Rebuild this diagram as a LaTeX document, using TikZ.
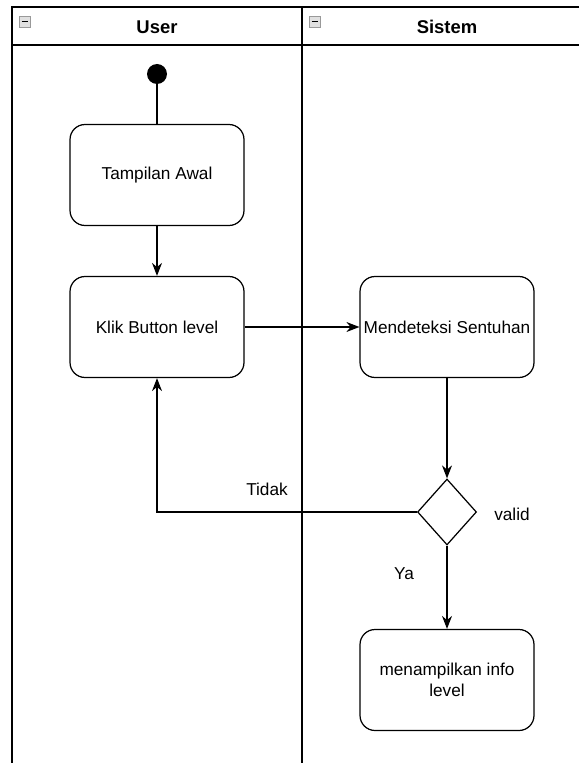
\documentclass[tikz,border=0pt]{standalone}
\usepackage{fontspec}
\setmainfont{Liberation Sans}
\usetikzlibrary{shapes.geometric,arrows.meta}
\tikzstyle{act}=[rectangle, rounded corners=0.3cm, draw=black, line width=0.7pt, minimum width=3.48cm, minimum height=2.02cm, align=center, inner sep=1pt, font=\fontsize{9.8}{12}\selectfont]
\tikzstyle{dec}=[diamond, draw=black, line width=0.7pt, minimum width=1.18cm, minimum height=1.32cm, inner sep=0pt]
\tikzstyle{lanehead}=[font=\fontsize{10.5}{12}\selectfont\bfseries]
\tikzstyle{annot}=[align=center, font=\fontsize{9.8}{12}\selectfont]
\tikzstyle{flow}=[-{Stealth[length=0.26cm, width=0.2cm]}, line width=0.7pt]

\begin{document}
\begin{tikzpicture}[x=0.02cm, y=-0.02cm]
	\useasboundingbox (0,0) rectangle (579,763);

	% lanes
	\draw[line width=0.8pt] (579,7) -- (12,7) -- (12,763);
	\draw[line width=0.8pt] (12,45) -- (579,45);
	\draw[line width=0.8pt] (302,7) -- (302,763);
	\foreach \x in {12,302}
	{
		\draw[fill=black!12, draw=black!40, line width=0.5pt] (\x+7,16) rectangle (\x+18,27);
		\draw[line width=1.1pt] (\x+9.5,21.5) -- (\x+15.5,21.5);
	}
	\node[lanehead] (userhead) at (157,27) {User};
	\node[lanehead] (sistemhead) at (447,27) {Sistem};

	% nodes
	\node[circle, fill=black, minimum size=0.4cm, inner sep=0pt] (start) at (157,74) {};
	\node[act] (awal) at (157,175) {Tampilan Awal};
	\node[act] (klik) at (157,327) {Klik Button level};
	\node[act] (deteksi) at (447,327) {Mendeteksi Sentuhan};
	\node[dec] (valid) at (447,512) {};
	\node[act] (info) at (447,680) {menampilkan info\\level};

	% edges
	\draw[line width=0.7pt] (start) -- (awal);
	\draw[flow] (awal) -- (klik);
	\draw[flow] (klik) -- (deteksi);
	\draw[flow] (deteksi) -- (valid);
	\draw[flow] (valid.west) -| (klik.south);
	\draw[flow] (valid) -- (info);

	\node[annot] (tidak) at (267,489) {Tidak};
	\node[annot] (validlbl) at (512,514) {valid};
	\node[annot] (ya) at (404,574) {Ya};
\end{tikzpicture}
\end{document}
